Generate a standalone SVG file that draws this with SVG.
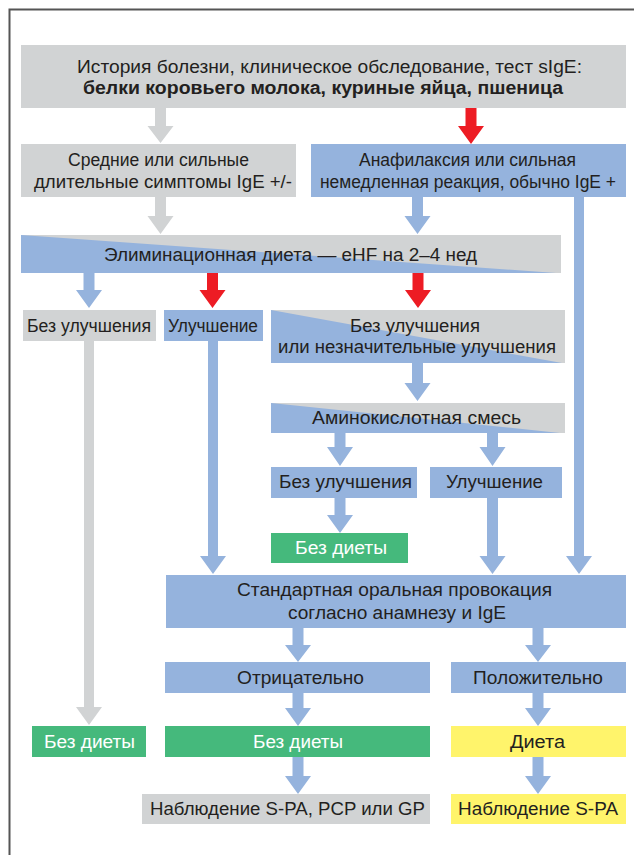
<svg xmlns="http://www.w3.org/2000/svg" width="634" height="855" viewBox="0 0 634 855">
<style>
.g{fill:#d1d3d4}.b{fill:#95b3dd}.gr{fill:#45b97c}.y{fill:#fff46b}
text{font-family:"Liberation Sans",Arial,sans-serif;font-size:17.5px;fill:#231f20}
.w{fill:#ffffff}.bd{font-weight:bold}
.ag{fill:#d1d3d4}.ab{fill:#95b3dd}.ar{fill:#ed1c24}
</style>
<rect width="634" height="855" fill="#ffffff"/>
<path d="M9.5,855 V9.5 H634" fill="none" stroke="#555555" stroke-width="2"/>
<g id="connectors">
<path class="ag" d="M155,108 V126 H147.5 L160.5,143 L173.5,126 H166 V108 Z"/>
<path class="ar" d="M465.5,108 V126 H458 L471,144 L484,126 H476.5 V108 Z"/>
<path class="ag" d="M155,197 V216 H147.5 L160.5,234 L173.5,216 H166 V197 Z"/>
<path class="ab" d="M412,197 V216 H404.5 L417.5,234 L430.5,216 H423 V197 Z"/>
<path class="ab" d="M574,197 V556 H566 L579,574 L592,556 H584 V197 Z"/>
<path class="ab" d="M83.5,273 V290 H76 L89,308 L102,290 H94.5 V273 Z"/>
<path class="ar" d="M207,273 V290 H199.5 L212.5,308 L225.5,290 H218 V273 Z"/>
<path class="ar" d="M412.5,273 V290 H405 L418,308 L431,290 H423.5 V273 Z"/>
<path class="ag" d="M84,341 V707 H76 L89,725 L102,707 H94 V341 Z"/>
<path class="ab" d="M208,341 V556 H200 L213,574 L226,556 H218 V341 Z"/>
<path class="ab" d="M412,363 V383 H404.5 L417.5,401 L430.5,383 H423 V363 Z"/>
<path class="ab" d="M334.5,433 V447 H327 L340,466 L353,447 H345.5 V433 Z"/>
<path class="ab" d="M487,433 V447 H479.5 L492.5,466 L505.5,447 H498 V433 Z"/>
<path class="ab" d="M334.5,498 V515 H327 L340,533 L353,515 H345.5 V498 Z"/>
<path class="ab" d="M487,498 V556 H479.5 L492.5,574 L505.5,556 H498 V498 Z"/>
<path class="ab" d="M292.5,628 V645 H285 L298,662 L311,645 H303.5 V628 Z"/>
<path class="ab" d="M532.5,628 V645 H525 L538,662 L551,645 H543.5 V628 Z"/>
<path class="ab" d="M292.5,693 V708 H285 L298,726 L311,708 H303.5 V693 Z"/>
<path class="ab" d="M532.5,693 V708 H525 L538,726 L551,708 H543.5 V693 Z"/>
<path class="ab" d="M292.5,757 V776 H285 L298,794 L311,776 H303.5 V757 Z"/>
<path class="ab" d="M532.5,757 V776 H525 L538,794 L551,776 H543.5 V757 Z"/>
</g>
<g id="n-top">
<rect class="g" x="21" y="45" width="605" height="63"/>
<text x="77" y="73" textLength="505" lengthAdjust="spacingAndGlyphs">История болезни, клиническое обследование, тест sIgE:</text>
<text class="bd" x="83" y="94" textLength="480" lengthAdjust="spacingAndGlyphs">белки коровьего молока, куриные яйца, пшеница</text>
</g>
<g id="n-moderate">
<rect class="g" x="21" y="144" width="275" height="53"/>
<text x="68" y="165.5" textLength="181" lengthAdjust="spacingAndGlyphs">Средние или сильные</text>
<text x="34" y="188" textLength="258" lengthAdjust="spacingAndGlyphs">длительные симптомы IgE +/-</text>
</g>
<g id="n-anaph">
<rect class="b" x="311" y="144" width="315" height="53"/>
<text x="359" y="165.5" textLength="217" lengthAdjust="spacingAndGlyphs">Анафилаксия или сильная</text>
<text x="320" y="188" textLength="296" lengthAdjust="spacingAndGlyphs">немедленная реакция, обычно IgE +</text>
</g>
<g id="n-elim">
<rect class="g" x="21" y="235" width="540" height="38"/>
<polygon class="b" points="21,235 556,273 21,273"/>
<text x="104" y="260.5" textLength="373" lengthAdjust="spacingAndGlyphs">Элиминационная диета — eHF на 2–4 нед</text>
</g>
<g id="n-noimp1">
<rect class="g" x="23" y="310" width="133" height="31"/>
<text x="27" y="331.5" textLength="124" lengthAdjust="spacingAndGlyphs">Без улучшения</text>
</g>
<g id="n-imp1">
<rect class="b" x="164" y="310" width="99" height="31"/>
<text x="168" y="331.5" textLength="90" lengthAdjust="spacingAndGlyphs">Улучшение</text>
</g>
<g id="n-noimp2">
<rect class="g" x="271" y="310" width="294" height="53"/>
<polygon class="b" points="271,310 562,363 271,363"/>
<text x="350" y="331.5" textLength="130" lengthAdjust="spacingAndGlyphs">Без улучшения</text>
<text x="278" y="353" textLength="278" lengthAdjust="spacingAndGlyphs">или незначительные улучшения</text>
</g>
<g id="n-amino">
<rect class="g" x="271" y="403" width="294" height="30"/>
<polygon class="b" points="271,403 560,433 271,433"/>
<text x="312" y="424" textLength="209" lengthAdjust="spacingAndGlyphs">Аминокислотная смесь</text>
</g>
<g id="n-noimp3">
<rect class="b" x="271" y="467" width="146" height="31"/>
<text x="279" y="488" textLength="133" lengthAdjust="spacingAndGlyphs">Без улучшения</text>
</g>
<g id="n-imp3">
<rect class="b" x="430" y="467" width="132" height="31"/>
<text x="446" y="488" textLength="97" lengthAdjust="spacingAndGlyphs">Улучшение</text>
</g>
<g id="n-nodiet1">
<rect class="gr" x="271" y="533" width="137" height="30"/>
<text class="w" x="295" y="554" textLength="92" lengthAdjust="spacingAndGlyphs">Без диеты</text>
</g>
<g id="n-ofc">
<rect class="b" x="166" y="575" width="460" height="53"/>
<text x="237" y="595.5" textLength="315" lengthAdjust="spacingAndGlyphs">Стандартная оральная провокация</text>
<text x="288" y="619" textLength="218" lengthAdjust="spacingAndGlyphs">согласно анамнезу и IgE</text>
</g>
<g id="n-neg">
<rect class="b" x="165" y="662" width="265" height="31"/>
<text x="237" y="684" textLength="127" lengthAdjust="spacingAndGlyphs">Отрицательно</text>
</g>
<g id="n-pos">
<rect class="b" x="451" y="662" width="175" height="31"/>
<text x="473" y="684" textLength="130" lengthAdjust="spacingAndGlyphs">Положительно</text>
</g>
<g id="n-nodiet2">
<rect class="gr" x="32" y="726" width="114" height="31"/>
<text class="w" x="44" y="748" textLength="91" lengthAdjust="spacingAndGlyphs">Без диеты</text>
</g>
<g id="n-nodiet3">
<rect class="gr" x="165" y="726" width="265" height="31"/>
<text class="w" x="253" y="748" textLength="90" lengthAdjust="spacingAndGlyphs">Без диеты</text>
</g>
<g id="n-diet">
<rect class="y" x="451" y="726" width="175" height="31"/>
<text x="510" y="748" textLength="55" lengthAdjust="spacingAndGlyphs">Диета</text>
</g>
<g id="n-follow1">
<rect class="g" x="142" y="794" width="288" height="30"/>
<text x="150" y="815" textLength="275" lengthAdjust="spacingAndGlyphs">Наблюдение S-PA, PCP или GP</text>
</g>
<g id="n-follow2">
<rect class="y" x="451" y="794" width="175" height="30"/>
<text x="458" y="815" textLength="160" lengthAdjust="spacingAndGlyphs">Наблюдение S-PA</text>
</g>
</svg>
